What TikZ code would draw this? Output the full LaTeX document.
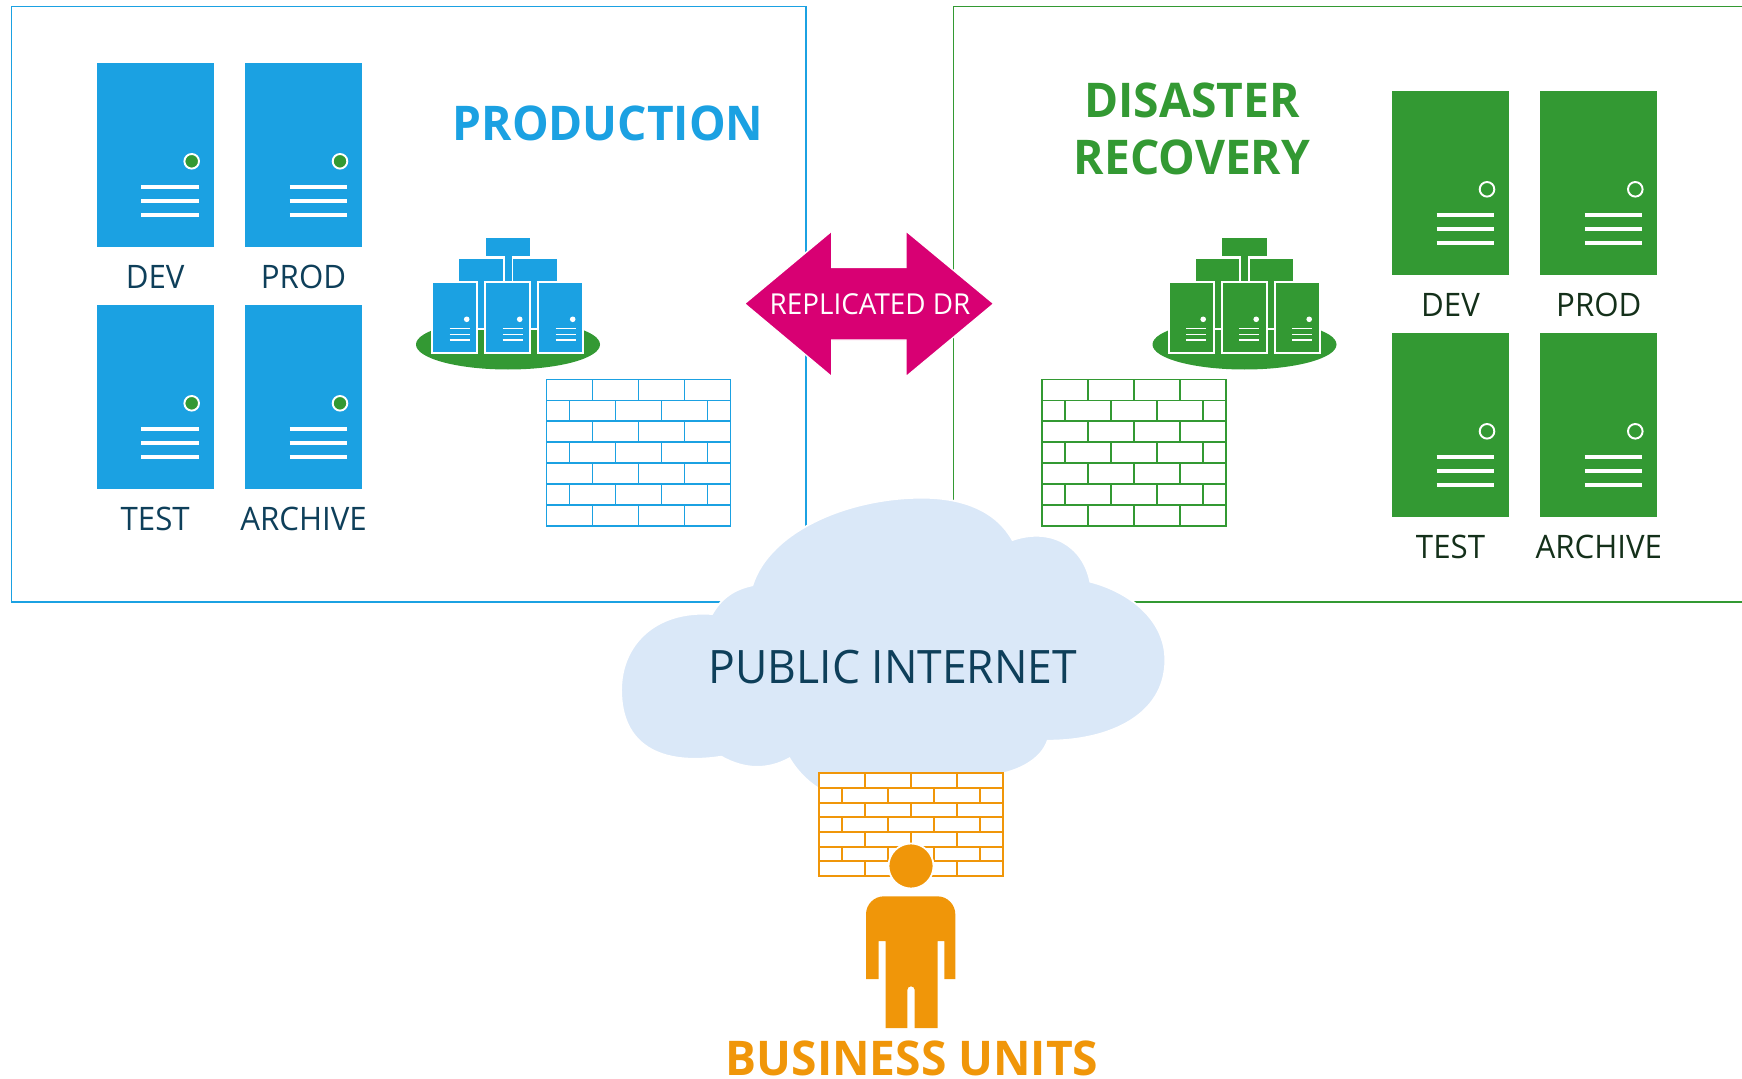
\documentclass[tikz,border=0pt]{standalone}
\usepackage{fontspec}
\setmainfont[FakeStretch=0.965]{Open Sans}
\definecolor{prodblue}{HTML}{1BA1E2}
\definecolor{drgreen}{HTML}{339933}
\definecolor{replpink}{HTML}{D80073}
\definecolor{unitorange}{HTML}{F09609}
\definecolor{cloudblue}{HTML}{DAE8F8}
\definecolor{prodtext}{HTML}{0E3F5A}
\definecolor{drtext}{HTML}{14301A}
% brick wall, 184 wide, seven rows: x, y, row height, colour
\newcommand{\brickwall}[4]{
  \fill[white] (#1,#2) rectangle ({#1+184},{#2+7*#3});
  \draw[#4, wall line] (#1,#2) rectangle ({#1+184},{#2+7*#3});
  \foreach \r in {1,...,6}{
    \draw[#4, wall line] (#1,{#2+\r*#3}) -- ({#1+184},{#2+\r*#3});
  }
  \foreach \r in {0,2,4,6}{
    \foreach \i in {46,92,138}{
      \draw[#4, wall line] ({#1+\i},{#2+\r*#3}) -- ({#1+\i},{#2+(\r+1)*#3});
  }}
  \foreach \r in {1,3,5}{
    \foreach \i in {23,69,115,161}{
      \draw[#4, wall line] ({#1+\i},{#2+\r*#3}) -- ({#1+\i},{#2+(\r+1)*#3});
  }}
}
% large server: x, y, colour
\newcommand{\bigserver}[3]{
  \fill[#3] (#1,#2) rectangle ({#1+117},{#2+183.7});
  \foreach \l in {124,138,152}{
    \draw[white, line width=1.4pt] ({#1+44.5},{#2+\l}) -- ({#1+102},{#2+\l});
  }
  \draw[white, fill=drgreen, line width=0.55pt] ({#1+95},{#2+98.3}) circle (7.3);
}
% small server: x, y, colour
\newcommand{\smallserver}[3]{
  \draw[#3, fill=#3, draw=white, line width=0.5pt] (#1,#2) rectangle ({#1+45},{#2+70.4});
  \fill[white] ({#1+34.4},{#2+37}) circle (2.8);
  \foreach \l in {46.4,52,57.7}{
    \draw[white, line width=0.45pt] ({#1+17.4},{#2+\l}) -- ({#1+37.4},{#2+\l});
  }
}
% server group on its green ellipse: x shift, colour
\newcommand{\servergroup}[2]{
  \begin{scope}[xshift=#1*0.01cm]
    \fill[drgreen] (508,344.5) ellipse (92 and 25);
    \fill[#2] (485.7,238.3) rectangle (530,256);
    \draw[#2, fill=#2, draw=white, line width=0.5pt] (458.3,258) rectangle (503.7,329);
    \draw[#2, fill=#2, draw=white, line width=0.5pt] (512.3,258) rectangle (557.7,329);
    \fill[#2] (504.5,256) rectangle (511.5,285);
    \smallserver{432.3}{282.3}{#2}
    \smallserver{485.3}{282.3}{#2}
    \smallserver{538.3}{282.3}{#2}
  \end{scope}
}
\tikzset{
  wall line/.style={line width=0.52pt},
  server label/.style={font=\fontsize{9.2}{11}\selectfont, inner sep=0pt},
  title text/.style={font=\fontsize{13.6}{16}\selectfont\bfseries, inner sep=0pt}
}
\begin{document}
\begin{tikzpicture}[x=0.01cm, y=-0.01cm]
  \useasboundingbox (0,0) rectangle (1742,1079);
  % site boxes
  \draw[prodblue, line width=0.55pt] (11.5,6.5) rectangle (806,602);
  \draw[drgreen, line width=0.55pt] (1742,6.5) -- (953.5,6.5) -- (953.5,602) -- (1742,602);
  % servers
  \foreach \x/\y/\t in {96.7/63/DEV, 245/63/PROD, 96.7/305/TEST, 245/305/ARCHIVE}{
    \bigserver{\x}{\y}{prodblue}
    \node[server label, text=prodtext] (left \t) at ({\x+58.5},{\y+214}) {\t};
  }
  \foreach \x/\y/\t in {1392/91/DEV, 1540.3/91/PROD, 1392/333/TEST, 1540.3/333/ARCHIVE}{
    \bigserver{\x}{\y}{drgreen}
    \node[server label, text=drtext] (right \t) at ({\x+58.5},{\y+214}) {\t};
  }
  \servergroup{0}{prodblue}
  \servergroup{736.5}{drgreen}
  \brickwall{546.5}{379.5}{20.95}{prodblue}
  \brickwall{1042}{379.5}{20.95}{drgreen}
  % titles
  \node[title text, text=prodblue] (production) at (608,123) {PRODUCTION};
  \node[title text, text=drgreen] (disaster) at (1192,100) {DISASTER};
  \node[title text, text=drgreen] (recovery) at (1192,157) {RECOVERY};
  % replication arrow
  \draw[replpink, fill=replpink, draw=white, line width=0.4pt] (744.5,303.7) -- (831.7,231) -- (831.7,267.3)
    -- (906,267.3) -- (906,231) -- (993.8,303.7) -- (906,376.7) -- (906,340)
    -- (831.7,340) -- (831.7,376.7) -- cycle;
  \node[font=\fontsize{8.2}{10}\selectfont, text=white, inner sep=0pt] (replicated) at (870,304) {REPLICATED DR};
  % cloud
  \draw[white, fill=cloudblue, line width=0.5pt] (752.4,585.3)
    .. controls (770,530) and (850,497.7) .. (921.9,497.7)
    .. controls (965,497.7) and (997,512) .. (1012.5,540)
    .. controls (1050,527) and (1083,545) .. (1090.2,581.7)
    .. controls (1130,592) and (1165.3,620) .. (1165.3,660)
    .. controls (1165.3,715) and (1110,740.7) .. (1047.7,740.7)
    .. controls (1042,757) and (1025,768) .. (1003.3,773.3)
    .. controls (950,800) and (850,815) .. (818.3,788.3)
    .. controls (805,780) and (795,768) .. (789.4,758.3)
    .. controls (768,770) and (745,770) .. (721.3,756.7)
    .. controls (660,766) and (621.1,745) .. (621.1,690)
    .. controls (621.1,645) and (655,610) .. (712.1,614)
    .. controls (722,597) and (735,589) .. cycle;
  \node[font=\fontsize{13.1}{16}\selectfont, text=prodtext, inner sep=0pt] (internet) at (893,667) {PUBLIC INTERNET};
  % business units
  \brickwall{818.7}{773.3}{14.67}{unitorange}
  \draw[white, fill=unitorange, line width=0.5pt] (911,866) circle (22.5);
  \fill[unitorange] (866,979) -- (866,914.3) arc[start angle=180, end angle=270, radius=18] -- (937.3,896.3)
    arc[start angle=270, end angle=360, radius=18] -- (955.3,979) -- (944.3,979) -- (944.3,941) -- (937.7,941)
    -- (937.7,1028) -- (914.7,1028) -- (914.7,990) arc[start angle=0, end angle=-180, radius=3.7]
    -- (907.3,1028) -- (885.7,1028) -- (885.7,941) -- (878.7,941) -- (878.7,979) -- cycle;
  \node[title text, text=unitorange] (units) at (912,1058.5) {BUSINESS UNITS};
\end{tikzpicture}
\end{document}
